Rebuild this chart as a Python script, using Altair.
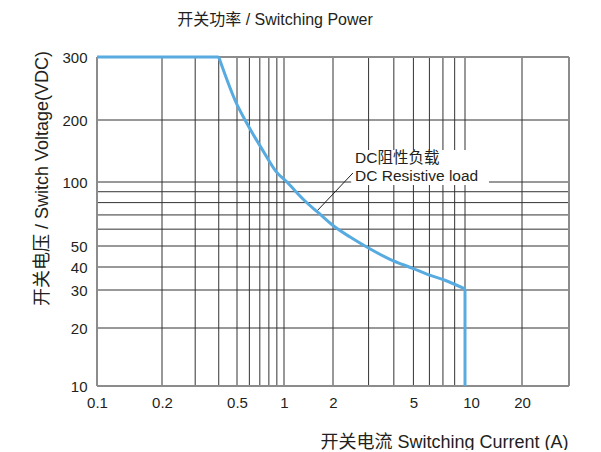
import altair as alt
import pandas as pd

# ---- data ----
curve_current = [0.1, 0.4, 0.502, 0.563, 0.627, 0.741, 0.893, 1.043, 1.168, 1.346,
                 1.625, 2.0, 2.43, 2.88, 3.83, 5.0, 5.82, 7.16, 9.0, 9.0]
curve_voltage = [300, 300, 220, 200, 173, 140, 112, 100, 91, 81.4,
                 71.7, 62.4, 55.1, 50, 43.4, 39.2, 36.6, 33.9, 30.4, 10]

x_grid = [0.2, 0.3, 0.4, 0.5, 0.6, 0.7, 0.8, 0.9, 1, 2, 3, 4, 5, 6, 7, 8, 9, 20]
y_grid = [20, 30, 40, 50, 60, 70, 80, 90, 100, 200]
x_labels = [0.1, 0.2, 0.5, 1, 2, 5, 10, 20]
y_labels = [10, 20, 30, 40, 50, 100, 200, 300]

# the printed log axes are not evenly spaced: piecewise log scales follow them
x_stops = [0.1, 0.2, 0.5, 1, 2, 9, 10, 20, 35.7]
x_stop_px = [0, 65, 140, 187, 236, 368, 374, 425, 472]
y_stops = [10, 20, 30, 40, 50, 100, 200, 300]
y_stop_px = [329, 271, 233, 210, 189, 125, 63, 0]

note_text = ["DC阻性负载", "DC Resistive load"]
note_x = [2.57, 2.57]
note_y = [130.8, 106.9]
leader_x = [1.588, 2.51]
leader_y = [72.8, 110.6]
box_x = [2.46, 12.77]
box_y = [96.8, 143]

FONT = "Liberation Sans, Arial, Noto Sans CJK SC, sans-serif"
TXT = "#231f20"
GRID = "#333333"
FRAME = "#8c8c8c"
BLUE = "#58abe0"

xs = alt.Scale(type="log", domain=x_stops, range=x_stop_px, nice=False)
ys = alt.Scale(type="log", domain=y_stops, range=y_stop_px, nice=False)

x_axis = alt.Axis(values=x_labels, format="~g", title="开关电流 Switching Current (A)",
                  titleX=347, titleY=56, titleAlign="center", titleBaseline="middle",
                  labelPadding=9, labelFlush=False)
y_axis = alt.Axis(values=y_labels, format="~g", title="开关电压 / Switch Voltage(VDC)",
                  titleX=-55, titleY=121, titleAngle=270, titleAlign="center",
                  titleBaseline="middle", labelPadding=10, labelFlush=False)


def X(f):
    return alt.X(f, scale=xs, axis=x_axis)


def Y(f):
    return alt.Y(f, scale=ys, axis=y_axis)


n = len(curve_current)
parts = ["flat", "flat"] + ["curve"] * (n - 3) + ["drop"]
curve_df = pd.DataFrame({"I": curve_current, "V": curve_voltage,
                         "o": list(range(n)), "part": parts})
drop_start = curve_df.iloc[[n - 2]].assign(part="drop")
flat_end = curve_df.iloc[[1]].assign(part="curve")
curve_df = pd.concat([curve_df, drop_start, flat_end], ignore_index=True)

xgrid = alt.Chart(pd.DataFrame({"g": x_grid})).mark_rule(
    color=GRID, strokeWidth=1).encode(x=X("g:Q"))
ygrid = alt.Chart(pd.DataFrame({"g": y_grid})).mark_rule(
    color=GRID, strokeWidth=1).encode(y=Y("g:Q"))

box = alt.Chart(pd.DataFrame({"x1": [box_x[0]], "x2": [box_x[1]],
                              "y1": [box_y[0]], "y2": [box_y[1]]})).mark_rect(
    color="white").encode(x=X("x1:Q"), x2="x2:Q", y=Y("y1:Q"), y2="y2:Q")

frame_v = alt.Chart(pd.DataFrame({"f": [x_stops[0], x_stops[-1]]})).mark_rule(
    color=FRAME, strokeWidth=2).encode(x=X("f:Q"))
frame_h = alt.Chart(pd.DataFrame({"f": [y_stops[0], y_stops[-1]]})).mark_rule(
    color=FRAME, strokeWidth=2).encode(y=Y("f:Q"))

leader = alt.Chart(pd.DataFrame({"x": leader_x, "y": leader_y})).mark_line(
    color=TXT, strokeWidth=1).encode(x=X("x:Q"), y=Y("y:Q"))

notes = alt.Chart(pd.DataFrame({"x": note_x, "y": note_y, "t": note_text})).mark_text(
    align="left", baseline="middle", font=FONT, fontSize=15.5, color=TXT).encode(
    x=X("x:Q"), y=Y("y:Q"), text="t:N")

straight = alt.Chart(curve_df).transform_filter(
    alt.FieldOneOfPredicate(field="part", oneOf=["flat", "drop"])).mark_line(
    color=BLUE, strokeWidth=3, interpolate="linear").encode(
    x=X("I:Q"), y=Y("V:Q"), detail="part:N", order="o:Q")

smooth = alt.Chart(curve_df).transform_filter(
    alt.FieldEqualPredicate(field="part", equal="curve")).mark_line(
    color=BLUE, strokeWidth=3, interpolate="monotone").encode(
    x=X("I:Q"), y=Y("V:Q"), order="o:Q")

chart = alt.layer(xgrid, ygrid, box, frame_v, frame_h, leader, notes, straight, smooth).properties(
    width=472, height=329,
    autosize="none",
    padding={"left": 89, "top": 49, "right": 24, "bottom": 64},
    title=alt.TitleParams(text="开关功率 / Switching Power", font=FONT, fontSize=16,
                          fontWeight="normal", color=TXT, anchor="middle", dx=-58, offset=22),
).configure_view(stroke=None).configure_axis(
    domain=False, ticks=False, grid=False,
    labelFont=FONT, labelFontSize=15, labelColor=TXT,
    titleFont=FONT, titleFontSize=18, titleFontWeight="normal", titleColor=TXT,
)

chart.save("out.html", embed_options={"renderer": "svg", "actions": False})
